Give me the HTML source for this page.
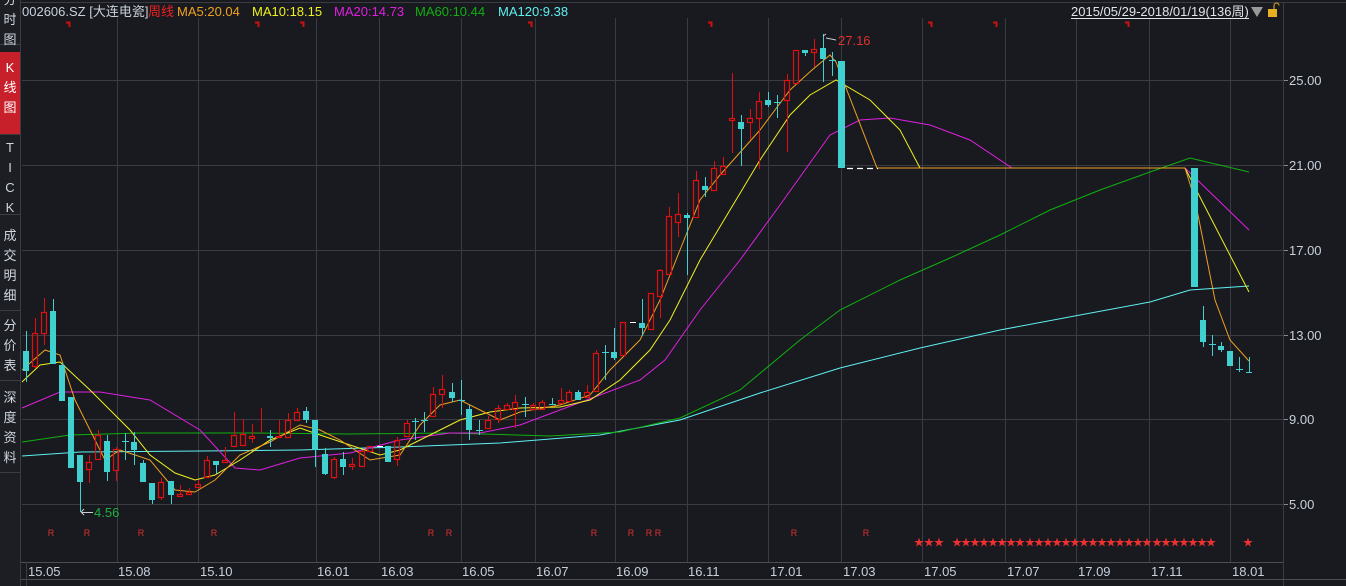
<!DOCTYPE html>
<html><head><meta charset="utf-8"><style>
body{margin:0;width:1346px;height:586px;background:#181a1f;overflow:hidden;font-family:"Liberation Sans","Noto Sans CJK SC",sans-serif;}
#side{position:absolute;left:0;top:0;width:20px;height:586px;background:#1c1e23;border-right:1px solid #3a3c42;}
.tab{position:absolute;left:0;width:20px;color:#cfd6e0;font-size:13px;line-height:20px;text-align:center;border-bottom:1px solid #3a3c42;}
svg{position:absolute;left:0;top:0}
</style></head><body>
<div id="side">
<div class="tab" style="top:-10px;height:54px">分<br>时<br>图</div>
<div class="tab" style="top:52px;height:80px;background:#c8202a;color:#fff;padding-top:6px;height:76px">K<br>线<br>图</div>
<div class="tab" style="top:134px;height:80px;padding-top:4px;height:76px">T<br>I<br>C<br>K</div>
<div class="tab" style="top:226px;height:84px">成<br>交<br>明<br>细</div>
<div class="tab" style="top:316px;height:64px">分<br>价<br>表</div>
<div class="tab" style="top:388px;height:84px">深<br>度<br>资<br>料</div>
</div>
<svg id="c" width="1346" height="586" xmlns="http://www.w3.org/2000/svg"></svg>
<script>
var s='';
function L(x1,y1,x2,y2,c,w,d){s+='<line x1="'+x1+'" y1="'+y1+'" x2="'+x2+'" y2="'+y2+'" stroke="'+c+'" stroke-width="'+(w||1)+'"'+(d?' stroke-dasharray="'+d+'"':'')+'/>';}
function T(x,y,t,c,sz,a){s+='<text x="'+x+'" y="'+y+'" fill="'+c+'" font-size="'+sz+'"'+(a?' text-anchor="'+a+'"':'')+'>'+t+'</text>';}
var G='#393c42';
L(21,2.5,1346,2.5,G);
var hy=[80,165,250,335,419,504];
hy.forEach(function(y){L(22,y+.5,1283,y+.5,G);L(1283,y+.5,1288,y+.5,'#888');});
var vx=[117,198,316,379,461,535,615,687,768,841,922,1005,1076,1149,1230];
vx.forEach(function(x){L(x+.5,18,x+.5,562,G);});
L(1283.5,2,1283.5,586,G);
L(21,562.5,1283,562.5,'#4a4d53');L(21,579.5,1346,579.5,'#4a4d53');
L(26.5,562,26.5,586,G);
// y labels
['25.00','21.00','17.00','13.00','9.00','5.00'].forEach(function(t,i){T(1289,hy[i]+5,t,'#c8d0da',13);});
// x labels
var xl=[[28,'15.05'],[118,'15.08'],[200,'15.10'],[317,'16.01'],[381,'16.03'],[462,'16.05'],[536,'16.07'],[616,'16.09'],[688,'16.11'],[770,'17.01'],[843,'17.03'],[924,'17.05'],[1007,'17.07'],[1078,'17.09'],[1151,'17.11'],[1232,'18.01']];
xl.forEach(function(a){T(a[0],576,a[1],'#c8d0da',13);});
// MA lines
function P(pts,c){s+='<polyline fill="none" stroke="'+c+'" stroke-width="1" points="'+pts+'"/>';}
P('22,456 80,452 200,451 300,450 400,447 500,443 600,435 680,420 760,393 840,368 920,348 1000,330 1080,315 1150,302 1190,290 1249,286','#5ff0f0');
P('22,442 70,435 140,433 250,433 350,434 450,433 550,436 620,432 680,418 740,390 800,340 840,310 900,280 950,258 1000,235 1050,210 1100,190 1150,172 1190,158 1249,172','#10b010');
P('22,408 60,392 100,392 150,400 200,430 235,468 260,470 300,458 350,453 400,440 450,433 480,433 520,425 560,410 600,395 640,380 665,360 700,310 740,260 780,205 830,135 860,120 890,118 930,125 970,140 1012,168 1185,168 1249,230','#e020e0');
P('22,382 40,365 60,362 90,390 110,410 130,430 150,455 175,473 195,480 215,475 240,460 270,440 300,428 320,435 350,445 380,455 400,450 430,435 460,420 490,412 520,408 560,407 590,400 620,380 650,350 670,320 700,260 730,210 760,160 790,115 810,95 836,80 870,100 900,130 920,168 1185,168 1249,292','#f0f020');
P('22,370 45,350 60,355 75,400 90,430 105,460 120,450 150,460 175,490 195,492 215,480 240,455 270,442 300,425 320,430 340,440 370,460 400,455 420,425 440,405 460,400 480,410 500,420 520,412 560,405 590,395 610,370 640,340 660,300 680,250 700,200 720,175 760,130 790,90 812,70 830,55 836,62 877,168 1185,168 1195,200 1215,300 1230,340 1249,361','#f0a020');
// candles: x, o, c, h, l
var C=[[26,351,371,331,382],[35,367,333,318,368],[44,334,312,298,345],[53,311,364,299,364],[62,365,401,363,401],[71,397,468,397,468],[80,455,482,455,512],[89,470,462,455,483],[98,460,435,430,460],[107,441,472,435,481],[116,471,449,447,481],[125,441,441,433,460],[134,442,450,432,465],[143,463,482,460,482],[152,483,500,483,504],[161,498,482,478,500],[171,481,495,481,504],[180,497,494,485,497],[189,495,492,488,495],[198,488,484,480,488],[207,478,460,456,478],[216,461,465,461,474],[225,463,460,447,463],[234,447,435,412,447],[243,446,434,419,446],[252,439,436,424,443],[261,434,433,408,434],[270,436,438,430,447],[279,438,436,420,438],[288,438,420,413,438],[297,421,412,408,421],[306,411,420,407,423],[315,420,450,420,467],[325,454,474,448,475],[334,478,459,457,479],[343,459,467,452,475],[352,467,464,458,470],[362,467,451,450,467],[370,452,446,446,452],[388,446,462,446,462],[397,460,440,437,466],[407,437,423,420,437],[415,421,421,418,440],[424,420,420,412,432],[433,417,394,387,417],[442,395,389,375,408],[452,392,398,383,402],[461,400,400,380,415],[469,409,430,405,440],[479,430,430,420,435],[488,429,420,416,429],[498,420,408,405,423],[507,410,405,403,410],[515,410,402,395,428],[525,404,404,397,417],[533,410,405,403,410],[542,410,402,400,410],[552,404,404,398,404],[561,404,400,388,404],[569,402,392,390,402],[578,392,400,390,400],[587,398,392,385,398],[596,392,353,350,392],[605,352,352,345,380],[614,352,358,328,360],[623,356,322,322,356],[642,323,328,299,336],[651,330,293,293,330],[660,297,270,269,318],[669,275,216,207,275],[678,223,214,193,237],[687,215,218,213,275],[696,218,180,171,218],[705,186,190,177,197],[714,191,168,161,191],[723,175,166,157,175],[732,121,118,73,153],[741,122,129,115,166],[750,123,118,109,140],[759,119,101,92,169],[768,100,105,92,107],[777,102,102,95,118],[787,101,80,74,152],[796,84,50,50,84],[805,50,53,50,56],[814,53,49,39,67],[823,48,59,34,82],[832,60,60,52,76],[841,61,168,61,168],[1194,168,287,168,287],[1203,320,342,306,347],[1212,344,344,335,356],[1221,346,350,342,352],[1230,351,366,351,366],[1239,369,369,357,372],[1249,372,373,357,373]];
C.forEach(function(k){var x=k[0],o=k[1],c=k[2],h=k[3],l=k[4];var up=c<o,col=up?'#e01010':'#40d0d0';
var top=Math.min(o,c),bot=Math.max(o,c);var w=(x==841||x==1194)?7:6;
L(x+.5,h,x+.5,top,col);L(x+.5,bot,x+.5,l,col);
if(bot-top<1){L(x-3,top+.5,x+4,top+.5,col);}
else if(up)s+='<rect x="'+(x-2.5)+'" y="'+(top+.5)+'" width="'+(w-1)+'" height="'+(bot-top-1)+'" fill="none" stroke="'+col+'" stroke-width="1.2"/>';
else s+='<rect x="'+(x-3)+'" y="'+top+'" width="'+w+'" height="'+(bot-top)+'" fill="'+col+'"/>';});
L(847,168.5,878,168.5,'#fff',1.2,'6 4');L(630,322.5,636,322.5,'#fff');L(377,446.5,383,446.5,'#fff');
// annotations
L(826,38,836,40,'#ccc');L(823,36,826,34,'#ccc');T(838,45,'27.16','#e03030',13);
L(82,512.5,93,512.5,'#ccc');L(81,512,84,509,'#ccc');L(81,512,84,515,'#ccc');T(94,517,'4.56','#20b040',13);
// top markers
[68,257,302,530,710,930,995,1127].forEach(function(x){s+='<path d="M'+(x-2)+' 22.5H'+(x+1.5)+'V27" stroke="#d01010" stroke-width="2" fill="none"/>';});
[51,87,141,214,431,449,594,631,649,658,794,866].forEach(function(x){T(x,536,'R','#e03030',9,'middle');});
var st=[919,929,939];for(var x=957;x<=1212;x+=9.07)st.push(Math.round(x));st.push(1248);
st.forEach(function(x){T(x,546,'★','#f03030',10,'middle');});
// header
T(22,16,'002606.SZ [大连电瓷]','#c8d0da',13);T(148,16,'周线','#f02020',13);
T(177,16,'MA5:20.04','#f0a020',13);T(252,16,'MA10:18.15','#f0f020',13);T(334,16,'MA20:14.73','#e020e0',13);
T(415,16,'MA60:10.44','#10b010',13);T(498,16,'MA120:9.38','#5ff0f0',13);
T(1071,16,'2015/05/29-2018/01/19(136周)','#e0e4ea',13);L(1071,18.5,1249,18.5,'#e0e4ea');
s+='<path d="M1251 7H1263L1257 17Z" fill="#999"/>';
s+='<rect x="1268" y="9" width="9" height="8" fill="#e8b020"/><path d="M1274 9V5.5A2.5 2.5 0 0 1 1279 5.5" stroke="#e8b020" fill="none"/>';
document.getElementById('c').innerHTML=s;
</script>
</body></html>
